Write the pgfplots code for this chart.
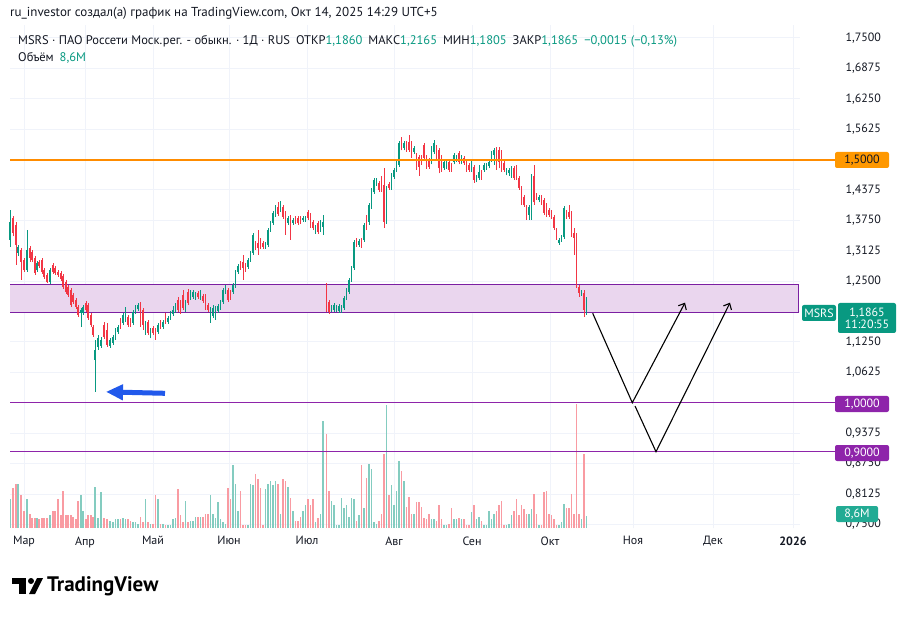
\documentclass[border=0pt]{standalone}
\usepackage{pgfplots}
\pgfplotsset{compat=1.18}
\usepackage{pgfplotstable}
\usepackage{fontspec}
\setmainfont{PT Sans}
\usetikzlibrary{arrows.meta}
\definecolor{upc}{RGB}{8,153,129}
\definecolor{dnc}{RGB}{242,54,69}
\definecolor{vup}{RGB}{132,204,192}
\definecolor{vdn}{RGB}{249,155,162}
\definecolor{txt}{RGB}{19,23,34}
\definecolor{gridc}{RGB}{240,243,250}
\definecolor{purp}{RGB}{142,36,170}
\definecolor{purpl}{RGB}{123,31,162}
\definecolor{zonef}{RGB}{234,214,238}
\definecolor{lvlorange}{RGB}{255,140,0}
\definecolor{badgeorange}{RGB}{255,152,0}
\definecolor{arrowblue}{RGB}{33,89,235}
\definecolor{volbadge}{RGB}{34,171,148}

\pgfplotstableread{
x o h l c v
10 1.3347 1.3964 1.3203 1.3717 20
18 1.3080 1.3245 1.3018 1.3203 31
27 1.2731 1.3553 1.2690 1.3142 20
37 1.2731 1.2916 1.2690 1.2875 7
50 1.2484 1.2772 1.2443 1.2731 9
81 1.1847 1.1949 1.1559 1.1908 23
83 1.1847 1.2011 1.1806 1.1970 12
95 1.0880 1.1291 1.0222 1.1086 29
98 1.1148 1.1394 1.1086 1.1332 7
101 1.1168 1.1353 1.1127 1.1291 25
110 1.1168 1.1332 1.1127 1.1291 5
113 1.1230 1.1394 1.1189 1.1353 4
115.5 1.1332 1.1538 1.1291 1.1497 6
118 1.1456 1.1600 1.1415 1.1559 6
123 1.1641 1.1847 1.1600 1.1806 7
125.5 1.1703 1.1970 1.1662 1.1908 6
133 1.1641 1.1908 1.1600 1.1867 4
135.5 1.1867 1.2011 1.1826 1.1970 4
138 1.1929 1.2052 1.1888 1.2011 3
145.5 1.1435 1.1682 1.1394 1.1641 20
150.5 1.1373 1.1538 1.1332 1.1497 3
158 1.1456 1.1641 1.1415 1.1600 20
163 1.1559 1.1703 1.1518 1.1662 3
168 1.1662 1.1785 1.1620 1.1744 2
170.5 1.1744 1.1888 1.1703 1.1847 2
173 1.1826 1.1990 1.1785 1.1908 6
175.5 1.1888 1.2052 1.1847 1.2011 7
185.5 1.1908 1.2114 1.1867 1.2073 19
190.5 1.2155 1.2319 1.2114 1.2258 5
193 1.2176 1.2319 1.2134 1.2278 5
195.5 1.2155 1.2278 1.2114 1.2237 8
200.5 1.2176 1.2319 1.2114 1.2258 8
210.5 1.1744 1.1970 1.1641 1.1908 23
213 1.1785 1.2011 1.1744 1.1949 10
215.5 1.1785 1.1990 1.1703 1.1929 7
218 1.1888 1.2032 1.1847 1.1990 18
220.5 1.1949 1.2114 1.1908 1.2073 6
223 1.2073 1.2361 1.2032 1.2319 4
225.5 1.2278 1.2422 1.2237 1.2381 3
233 1.2278 1.2463 1.2237 1.2422 44
235.5 1.2402 1.2731 1.2361 1.2690 31
238 1.2690 1.2854 1.2648 1.2813 12
248 1.2792 1.2977 1.2751 1.2936 2
250.5 1.2936 1.3121 1.2895 1.3080 31
253 1.3080 1.3491 1.3039 1.3450 30
265.5 1.3203 1.3306 1.3162 1.3265 27
268 1.3245 1.3594 1.3203 1.3553 31
270.5 1.3553 1.3738 1.3512 1.3697 33
273 1.3697 1.3943 1.3656 1.3902 30
275.5 1.3861 1.4067 1.3820 1.4026 33
280.5 1.3964 1.4149 1.3923 1.4108 10
288 1.3697 1.3841 1.3656 1.3800 29
293 1.3697 1.3800 1.3656 1.3759 12
303 1.3759 1.3841 1.3717 1.3800 12
305.5 1.3759 1.3841 1.3717 1.3800 16
315.5 1.3512 1.3656 1.3471 1.3615 4
320.5 1.3553 1.3759 1.3512 1.3697 10
323 1.3615 1.3861 1.3450 1.3717 75
331.5 1.1908 1.2011 1.1867 1.1970 19
334 1.1908 1.2052 1.1867 1.2011 16
336.5 1.1908 1.2011 1.1867 1.1970 2
339 1.1888 1.2032 1.1847 1.1990 2
341.5 1.1888 1.2011 1.1847 1.1970 21
344 1.1949 1.2196 1.1908 1.2155 14
346.5 1.2155 1.2361 1.2114 1.2319 16
349 1.2278 1.2566 1.2237 1.2525 8
351.5 1.2525 1.2813 1.2484 1.2772 21
354 1.2772 1.3347 1.2731 1.3306 20
359 1.3245 1.3368 1.3203 1.3327 9
364 1.3347 1.3697 1.3306 1.3656 14
369 1.3717 1.4108 1.3656 1.4067 45
371.5 1.4026 1.4416 1.3985 1.4375 41
374 1.4334 1.4622 1.4293 1.4581 4
376.5 1.4498 1.4622 1.4457 1.4581 3
386.5 1.3717 1.4457 1.3676 1.4416 86
391.5 1.4416 1.4724 1.4375 1.4683 30
394 1.4642 1.4827 1.4601 1.4786 16
396.5 1.4786 1.4971 1.4745 1.4930 26
399 1.4889 1.5382 1.4848 1.5341 47
404 1.5238 1.5382 1.5197 1.5341 33
414 1.5156 1.5280 1.5115 1.5238 10
431.5 1.4951 1.5280 1.4909 1.5238 6
434 1.5156 1.5403 1.5115 1.5341 6
444 1.4827 1.4992 1.4786 1.4951 2
446.5 1.4848 1.4971 1.4807 1.4930 2
454 1.4951 1.5136 1.4909 1.5094 6
456.5 1.4992 1.5094 1.4951 1.5053 6
461.5 1.4951 1.5094 1.4909 1.5053 6
471.5 1.4786 1.4992 1.4745 1.4951 11
476.5 1.4581 1.4683 1.4539 1.4642 6
479 1.4622 1.4889 1.4581 1.4745 8
484 1.4786 1.4930 1.4745 1.4889 2
486.5 1.4827 1.4930 1.4786 1.4889 2
489 1.4868 1.4992 1.4827 1.4951 12
491.5 1.4992 1.5177 1.4951 1.5136 6
494 1.5094 1.5238 1.4889 1.5197 10
506.5 1.4724 1.4827 1.4683 1.4786 2
509 1.4724 1.4827 1.4663 1.4786 3
511.5 1.4724 1.4868 1.4622 1.4827 9
529 1.3861 1.4067 1.3759 1.4026 10
531.5 1.3923 1.4704 1.3759 1.4663 13
539 1.4170 1.4272 1.4128 1.4231 2
559 1.3286 1.3388 1.3245 1.3347 2
561.5 1.3347 1.3450 1.3306 1.3409 4
564 1.3409 1.4046 1.3368 1.4005 17
581.5 1.2237 1.2319 1.2196 1.2278 6
586.5 1.1860 1.2165 1.1805 1.1865 8.6
}\uptab

\pgfplotstableread{
x o h l c v
13 1.3800 1.3841 1.3429 1.3491 28
16 1.3656 1.3717 1.2834 1.3245 31
21 1.3142 1.3183 1.2525 1.2895 23
24 1.2936 1.2977 1.2690 1.2731 12
30 1.3183 1.3224 1.2895 1.2977 10
32 1.3101 1.3142 1.2895 1.2936 7
35 1.2977 1.3018 1.2628 1.2669 7
39 1.2895 1.2936 1.2772 1.2813 6
42 1.2936 1.2977 1.2648 1.2690 7
44 1.2731 1.2772 1.2546 1.2587 7
47 1.2628 1.2669 1.2463 1.2484 7
53 1.2834 1.2875 1.2648 1.2690 12
55 1.2772 1.2813 1.2628 1.2669 12
58 1.2690 1.2731 1.2587 1.2628 20
61 1.2669 1.2710 1.2504 1.2546 9
63 1.2607 1.2648 1.2340 1.2381 26
66 1.2484 1.2525 1.2237 1.2278 9
68 1.2381 1.2422 1.2176 1.2217 9
71 1.2319 1.2361 1.1970 1.2011 9
73 1.2217 1.2258 1.2032 1.2073 8
76 1.2114 1.2155 1.1929 1.1970 6
78 1.1970 1.2011 1.1764 1.1806 19
86 1.2052 1.2093 1.1867 1.1908 6
88 1.2011 1.2052 1.1703 1.1744 9
91 1.1806 1.1847 1.1559 1.1600 9
93 1.1559 1.1600 1.1353 1.1394 8
104 1.1600 1.1662 1.1312 1.1353 7
107 1.1497 1.1641 1.1148 1.1189 6
120.5 1.1703 1.1744 1.1518 1.1559 6
128 1.1764 1.1806 1.1559 1.1600 6
130.5 1.1703 1.1744 1.1559 1.1600 5
140.5 1.1990 1.2073 1.1559 1.1744 8
143 1.1908 1.1949 1.1497 1.1600 4
148 1.1662 1.1703 1.1394 1.1435 4
153 1.1538 1.1579 1.1394 1.1435 3
155.5 1.1497 1.1538 1.1291 1.1332 23
160.5 1.1662 1.1703 1.1518 1.1559 3
165.5 1.1806 1.1847 1.1620 1.1662 2
178 1.2114 1.2176 1.1867 1.1908 27
180.5 1.2052 1.2114 1.1826 1.1867 9
183 1.2217 1.2319 1.1908 1.1949 4
188 1.2278 1.2340 1.2011 1.2052 4
198 1.2258 1.2299 1.2134 1.2176 8
203 1.2196 1.2237 1.2052 1.2093 8
205.5 1.2196 1.2237 1.1908 1.1990 10
208 1.2011 1.2052 1.1867 1.1908 10
228 1.2319 1.2361 1.2073 1.2114 28
230.5 1.2278 1.2319 1.2114 1.2155 20
240.5 1.2875 1.2916 1.2731 1.2772 26
243 1.2895 1.3039 1.2525 1.2772 2
245.5 1.2834 1.2875 1.2690 1.2731 2
255.5 1.3286 1.3327 1.3142 1.3183 38
258 1.3286 1.3553 1.3039 1.3183 34
260.5 1.3347 1.3388 1.3162 1.3203 28
263 1.3286 1.3327 1.3162 1.3203 2
278 1.4026 1.4128 1.3841 1.3882 31
283 1.4026 1.4067 1.3779 1.3820 34
285.5 1.3902 1.3943 1.3450 1.3491 33
290.5 1.3820 1.3861 1.3347 1.3697 21
295.5 1.3800 1.3841 1.3676 1.3717 5
298 1.3800 1.3841 1.3656 1.3697 5
300.5 1.3800 1.3841 1.3676 1.3717 8
308 1.3923 1.3964 1.3759 1.3800 20
310.5 1.3861 1.3902 1.3594 1.3759 16
313 1.3717 1.3759 1.3553 1.3594 20
318 1.3697 1.3738 1.3471 1.3512 7
326.5 1.2422 1.2463 1.1867 1.1970 66
329 1.2073 1.2114 1.1826 1.1867 26
356.5 1.3347 1.3388 1.3203 1.3245 5
361.5 1.3347 1.3388 1.3183 1.3224 44
366.5 1.3820 1.3861 1.3553 1.3594 35
379 1.4519 1.4560 1.4334 1.4375 5
381.5 1.4498 1.4663 1.4334 1.4375 10
384 1.4478 1.4827 1.3594 1.3717 52
389 1.4498 1.4539 1.4375 1.4416 23
401.5 1.5403 1.5465 1.5197 1.5238 40
406.5 1.5341 1.5382 1.5156 1.5197 15
409 1.5362 1.5506 1.5156 1.5197 22
411.5 1.5341 1.5382 1.5033 1.5156 10
416.5 1.5094 1.5136 1.4786 1.4889 18
419 1.5053 1.5094 1.4663 1.4848 18
421.5 1.5053 1.5094 1.4889 1.4930 15
424 1.5300 1.5341 1.4992 1.5033 7
426.5 1.5053 1.5094 1.4807 1.4848 6
429 1.4992 1.5033 1.4807 1.4848 10
436.5 1.5259 1.5300 1.4992 1.5033 5
439 1.5197 1.5238 1.4724 1.4827 16
441.5 1.5053 1.5094 1.4745 1.4786 6
449 1.4951 1.4992 1.4745 1.4786 3
451.5 1.4889 1.4930 1.4745 1.4786 14
459 1.5136 1.5177 1.4909 1.4951 7
464 1.5033 1.5074 1.4889 1.4930 6
466.5 1.4951 1.4992 1.4745 1.4786 2
469 1.4889 1.4930 1.4745 1.4786 2
474 1.4848 1.4889 1.4519 1.4581 16
481.5 1.4745 1.4786 1.4581 1.4622 5
496.5 1.5197 1.5259 1.4786 1.4827 12
499 1.5197 1.5259 1.4827 1.4951 16
501.5 1.5094 1.5197 1.4745 1.4827 19
504 1.4930 1.4971 1.4745 1.4786 2
514 1.4827 1.4868 1.4581 1.4622 12
516.5 1.4848 1.4889 1.4581 1.4642 20
519 1.4622 1.4663 1.4375 1.4416 9
521.5 1.4416 1.4457 1.4067 1.4108 16
524 1.4231 1.4272 1.4026 1.4067 13
526.5 1.4026 1.4067 1.3759 1.3923 10
534 1.4663 1.4889 1.4067 1.4128 24
536.5 1.4272 1.4313 1.4170 1.4210 10
541.5 1.4231 1.4272 1.4067 1.4108 2
544 1.4170 1.4210 1.3861 1.3902 25
546.5 1.4067 1.4108 1.3820 1.3861 26
549 1.3964 1.4005 1.3820 1.3861 10
551.5 1.3923 1.3964 1.3779 1.3820 9
554 1.3820 1.3861 1.3553 1.3594 6
556.5 1.3553 1.3594 1.3347 1.3409 2
566.5 1.3923 1.3964 1.3779 1.3820 14
569 1.3923 1.4067 1.3779 1.3820 14
571.5 1.3902 1.3943 1.3409 1.3759 24
574 1.3491 1.3594 1.3039 1.3388 10
576.5 1.3450 1.3491 1.2361 1.2422 87
579 1.2381 1.2422 1.2176 1.2258 10
584 1.2258 1.2319 1.1764 1.1908 52
}\dntab

\pgfplotsset{base/.style={scale only axis, width=790pt, height=503pt,
  at={(10pt,88pt)}, anchor=south west, xmin=10, xmax=800},
  candle/.style={only marks, mark=*, mark size=0pt, mark options={draw=none, fill=none},
    error bars/.cd, y dir=plus, y explicit, error mark=none}}

\begin{document}
\begin{tikzpicture}[x=1pt,y=1pt]
\useasboundingbox (0,0) rectangle (912,616);
\fill[white] (0,0) rectangle (912,616);

% grid + tick labels
\begin{axis}[base, ymin=0.7426, ymax=1.7767,
  axis line style={draw=none},
  ytick={0.75,0.8125,0.875,0.9375,1.0,1.0625,1.125,1.1875,1.25,1.3125,1.375,1.4375,1.5,1.5625,1.625,1.6875,1.75},
  yticklabels={{0,7500},{0,8125},{0,8750},{0,9375},{},{1,0625},{1,1250},{},{1,2500},{1,3125},{1,3750},{1,4375},{},{1,5625},{1,6250},{1,6875},{1,7500}},
  xtick={24,85,153,229,307,394,472,550,633,713,793},
  xticklabels={Мар,Апр,Май,Июн,Июл,Авг,Сен,Окт,Ноя,Дек,\textbf{2026}},
  grid=major, grid style={draw=gridc, line width=1pt},
  major tick length=0pt,
  yticklabel pos=right,
  yticklabel style={anchor=west, xshift=42pt, text=txt, font=\fontsize{12}{14}\selectfont},
  xticklabel style={text=txt, font=\fontsize{12}{14}\selectfont, yshift=-5pt},
]
\end{axis}

% volume
\begin{axis}[base, ymin=0, ymax=352, hide axis]
\addplot[ycomb, draw=vup, line width=1.3pt, mark=none] table[x=x,y=v] {\uptab};
\addplot[ycomb, draw=vdn, line width=1.3pt, mark=none] table[x=x,y=v] {\dntab};
\end{axis}

% price
\begin{axis}[base, ymin=0.7426, ymax=1.7767, hide axis, clip=false]
\fill[zonef] (axis cs:10,1.1847) rectangle (axis cs:798,1.2422);
\draw[purpl, line width=1pt] (axis cs:10,1.2422) -- (axis cs:798,1.2422) -- (axis cs:798,1.1847) -- (axis cs:10,1.1847);
% wicks
\addplot[candle, error bar style={line width=0.8pt, draw=upc}]
  table[x=x, y=l, y error plus expr=\thisrow{h}-\thisrow{l}] {\uptab};
\addplot[candle, error bar style={line width=0.8pt, draw=dnc}]
  table[x=x, y=l, y error plus expr=\thisrow{h}-\thisrow{l}] {\dntab};
% bodies
\addplot[candle, error bar style={line width=1.9pt, draw=upc}]
  table[x=x, y=o, y error plus expr=\thisrow{c}-\thisrow{o}] {\uptab};
\addplot[candle, error bar style={line width=1.9pt, draw=dnc}]
  table[x=x, y=c, y error plus expr=\thisrow{o}-\thisrow{c}] {\dntab};
% levels 1.0 and 0.9
\addplot[color=purp, line width=1.1pt, mark=none] coordinates {(10,1.0) (835,1.0)};
\addplot[color=purp, line width=1.1pt, mark=none] coordinates {(10,0.9) (835,0.9)};
% blue arrow
\draw[arrowblue, line width=5pt, -{Triangle[length=17pt,width=15pt]}] (axis cs:165,1.0195) -- (axis cs:106,1.0225);
% scenario lines
\draw[black, line width=1.1pt, -{Straight Barb[length=5pt,width=9pt]}] (axis cs:592.7,1.1840) -- (axis cs:632.3,1.0002) -- (axis cs:685,1.2058);
\draw[black, line width=1.1pt, -{Straight Barb[length=5pt,width=9pt]}] (axis cs:635,0.9934) -- (axis cs:656,0.8994) -- (axis cs:730,1.2058);
\end{axis}

% orange level line at 1,5000 (y = 160 px from top)
\draw[line width=1.2pt, draw=lvlorange] (10,456) -- (835,456);

% badges
\tikzset{badge/.style={rounded corners=2pt, inner sep=0pt, font=\fontsize{12}{13}\selectfont, text=white}}
\node[badge, fill=badgeorange, text=txt, minimum width=54pt, minimum height=16pt] at (862,456) {1,5000};
\node[badge, fill=purp, minimum width=54pt, minimum height=16pt] at (862,212) {1,0000};
\node[badge, fill=purp, minimum width=54pt, minimum height=16pt] at (862,163) {0,9000};
\node[badge, fill=upc, minimum width=34pt, minimum height=16pt] at (819,303) {MSRS};
\node[badge, fill=upc, minimum width=58pt, minimum height=30pt, align=center] at (867,298) {1,1865\\[-1pt]11:20:55};
\node[badge, fill=volbadge, minimum width=42pt, minimum height=16pt] at (857,102) {8,6M};

% header
\node[anchor=west, inner sep=0pt, text=txt, font=\fontsize{13}{15}\selectfont] at (10,603)
  {ru\_investor создал(а) график на TradingView.com, Окт 14, 2025 14:29 UTC+5};
\node[anchor=west, inner sep=0pt, text=txt, font=\fontsize{12.5}{14}\selectfont] at (18,575)
  {MSRS · ПАО Россети Моск.рег. - обыкн. · 1Д · RUS\hspace{6pt}ОТКР\textcolor{upc}{1,1860}\hspace{6pt}МАКС\textcolor{upc}{1,2165}\hspace{6pt}МИН\textcolor{upc}{1,1805}\hspace{6pt}ЗАКР\textcolor{upc}{1,1865}\hspace{6pt}\textcolor{upc}{−0,0015 (−0,13\%)}};
\node[anchor=west, inner sep=0pt, text=txt, font=\fontsize{12.5}{14}\selectfont] at (18,558)
  {Объём\hspace{6pt}\textcolor{upc}{8,6M}};

% logo
\fill[black] (12,38) rectangle (26,32);
\fill[black] (19,32) rectangle (26,22);
\fill[black] (31,35) circle (3);
\fill[black] (37,38) -- (43,38) -- (35,22) -- (29,22) -- cycle;
\node[anchor=west, inner sep=0pt, font=\bfseries\fontsize{21}{24}\selectfont] at (47,30) {TradingView};
\end{tikzpicture}
\end{document}
